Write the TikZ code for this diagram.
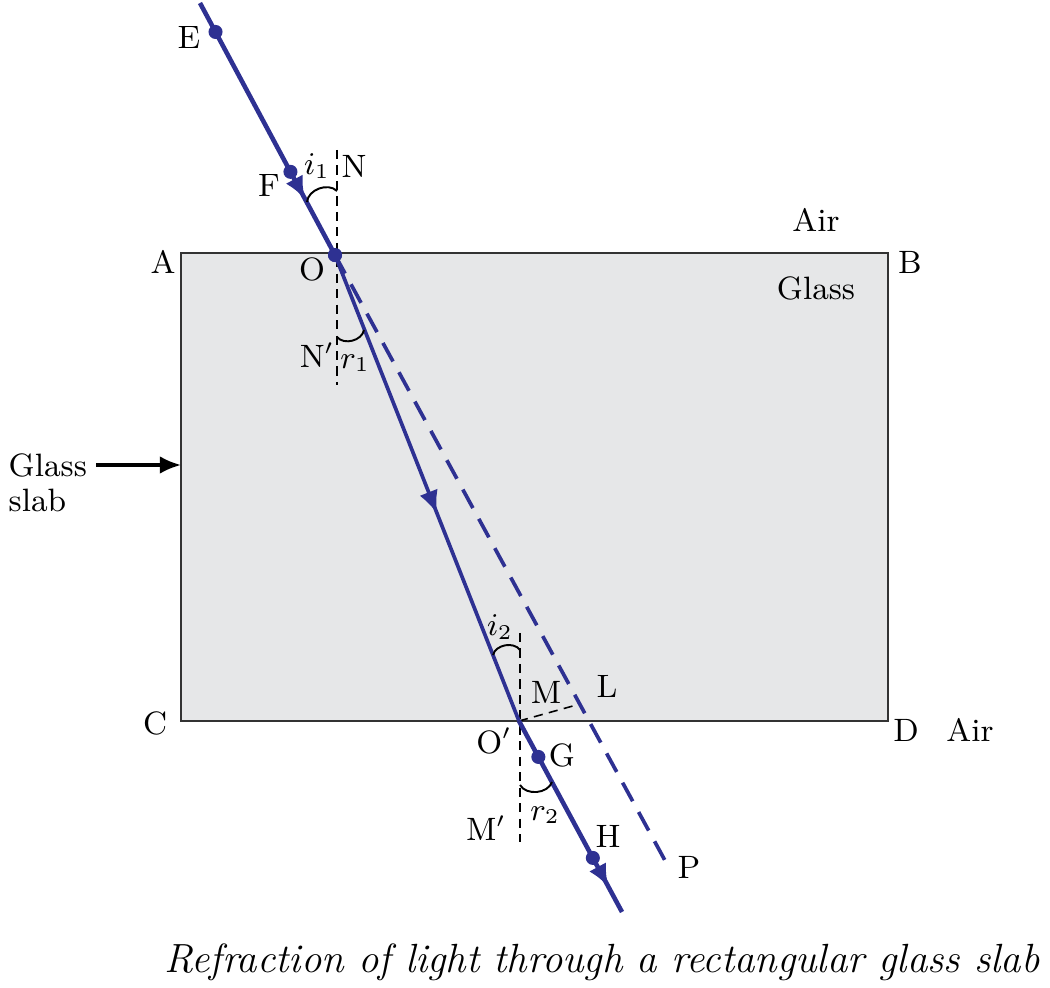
\documentclass[tikz,border=0pt]{standalone}
\usepackage{tikz}
\usetikzlibrary{arrows.meta}
\usetikzlibrary{decorations.markings}
\usetikzlibrary{calc}
\definecolor{rayblue}{RGB}{46,49,146}
\definecolor{slabgray}{RGB}{230,231,232}
\tikzstyle{ray}=[rayblue, line width=1.3pt]
\tikzstyle{inray}=[rayblue, line width=1.05pt]
\tikzstyle{extray}=[rayblue, line width=1.05pt, dash pattern=on 6pt off 3.5pt]
\tikzstyle{normal}=[black, line width=0.45pt, dash pattern=on 2.6pt off 1.8pt]
\tikzstyle{anglearc}=[black, line width=0.55pt]
\tikzstyle{pt}=[circle, fill=rayblue, inner sep=0pt, minimum size=4pt]
\tikzstyle{lbl}=[inner sep=0pt, font=\fontsize{9.2}{11}\selectfont]
\tikzset{midarrow/.style={postaction={decorate},
    decoration={markings, mark=at position #1 with {\arrow{Latex[length=6.5pt,width=5.5pt]}}}}}

\begin{document}
\begin{tikzpicture}
    \useasboundingbox (0,0) rectangle (10.5,-9.88);
    % the slab
    \coordinate (A) at (1.81,-2.53);
    \coordinate (B) at (8.88,-2.53);
    \coordinate (C) at (1.81,-7.21);
    \coordinate (D) at (8.88,-7.21);
    \draw[fill=slabgray, draw=black!80, line width=0.6pt] (A) -- (B) -- (D) -- (C) -- cycle;

    % points on the rays
    \coordinate (start) at (2.00,-0.03);
    \node[pt] (O) at (3.35,-2.55) {};
    \coordinate (Oprime) at (5.19,-7.21);
    \coordinate (end) at (6.22,-9.12);
    \coordinate (Pend) at (6.68,-8.66);
    \node[pt] (E) at ($(start)!0.115!(O.center)$) {};
    \node[pt] (F) at ($(start)!0.67!(O.center)$) {};
    \node[pt] (G) at ($(Oprime)!0.188!(end)$) {};
    \node[pt] (H) at ($(Oprime)!0.717!(end)$) {};
    \coordinate (Lfoot) at ($(O.center)!0.735!(Pend)$);

    % normals
    \coordinate (Ntop) at (3.37,-1.50);
    \coordinate (Nbot) at (3.37,-3.85);
    \coordinate (Mtop) at (5.20,-6.33);
    \coordinate (Mbot) at (5.20,-8.42);
    \draw[normal] (Ntop) -- (Nbot);
    \draw[normal] (Mtop) -- (Mbot);
    \draw[normal] (Oprime) -- (Lfoot);

    % rays
    \draw[extray] (O.center) -- (Pend);
    \draw[ray, midarrow=0.78] (start) -- (O.center);
    \draw[inray, midarrow=0.555] (O.center) -- (Oprime);
    \draw[ray, midarrow=0.87] (Oprime) -- (end);
    \node[pt] at (O) {};

    % angles
    \draw[anglearc] (3.07,-2.02) to[bend left=65] (3.37,-1.91);
    \draw[anglearc] (3.37,-3.37) to[bend right=65] (3.64,-3.30);
    \draw[anglearc] (4.93,-6.55) to[bend left=65] (5.20,-6.50);
    \draw[anglearc] (5.20,-7.85) to[bend right=65] (5.52,-7.82);

    % labels
    \node[lbl] (labE) at (1.89,-0.38) {E};
    \node[lbl] (labF) at (2.69,-1.86) {F};
    \node[lbl] (labi1) at (3.17,-1.66) {$i_1$};
    \node[lbl] (labN) at (3.54,-1.66) {N};
    \node[lbl] (labO) at (3.12,-2.69) {O};
    \node[lbl] (labN2) at (3.17,-3.55) {N$'$};
    \node[lbl] (labr1) at (3.55,-3.63) {$r_1$};
    \node[lbl] (labA) at (1.63,-2.62) {A};
    \node[lbl] (labB) at (9.10,-2.62) {B};
    \node[lbl] (labC) at (1.55,-7.23) {C};
    \node[lbl] (labD) at (9.06,-7.30) {D};
    \node[lbl] (air1) at (8.16,-2.20) {Air};
    \node[lbl] (glass) at (8.16,-2.88) {Glass};
    \node[lbl] (air2) at (9.70,-7.30) {Air};
    \node[lbl] (labi2) at (5.00,-6.27) {$i_2$};
    \node[lbl] (labM) at (5.46,-6.92) {M};
    \node[lbl] (labL) at (6.07,-6.86) {L};
    \node[lbl] (labO2) at (4.94,-7.41) {O$'$};
    \node[lbl] (labG) at (5.62,-7.55) {G};
    \node[lbl] (labM2) at (4.86,-8.28) {M$'$};
    \node[lbl] (labr2) at (5.45,-8.15) {$r_2$};
    \node[lbl] (labH) at (6.08,-8.36) {H};
    \node[lbl] (labP) at (6.89,-8.67) {P};

    % glass slab pointer
    \node[lbl, anchor=west] (glasslbl) at (0.08,-4.65) {Glass};
    \node[lbl, anchor=west] (slablbl) at (0.08,-5.00) {slab};
    \coordinate (slabtip) at (1.81,-4.65);
    \draw[line width=0.9pt, -{Latex[length=6pt,width=5pt]}, shorten <=2.5pt] (glasslbl.east) -- (slabtip);

    % caption
    \node[font=\fontsize{11.6}{13}\selectfont\itshape] (caption) at (6.02,-9.62)
        {Refraction of light through a rectangular glass slab};
\end{tikzpicture}
\end{document}
